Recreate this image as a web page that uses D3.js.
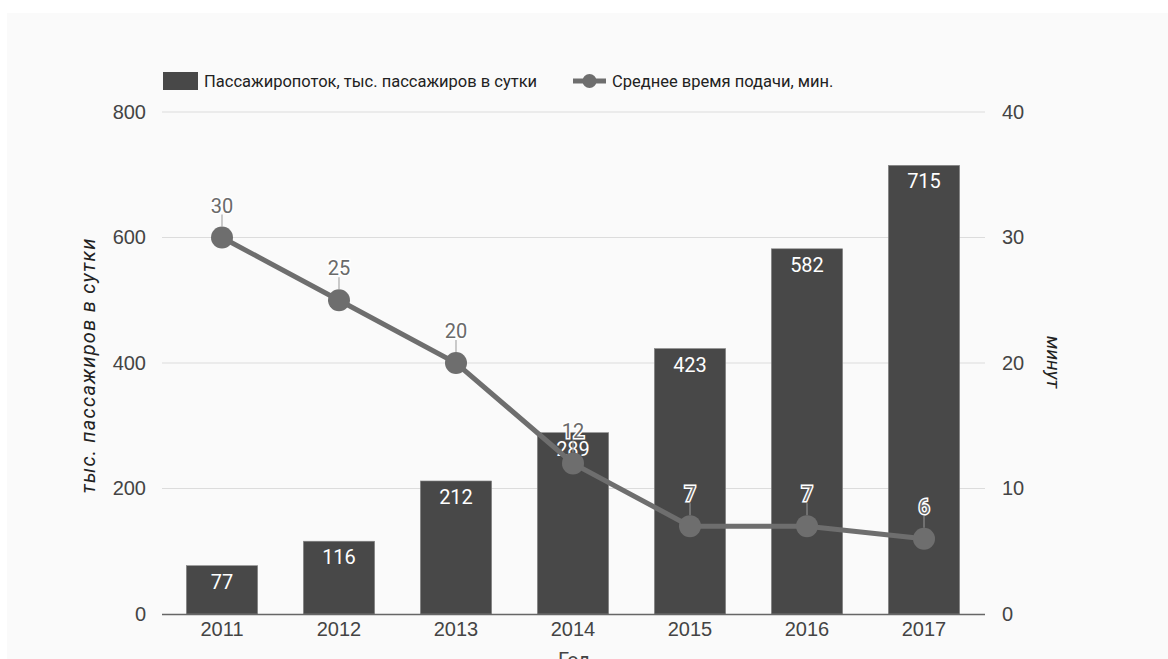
<!DOCTYPE html>
<html><head><meta charset="utf-8">
<script src="https://cdn.jsdelivr.net/npm/d3@7"></script>
<style>
html,body{margin:0;padding:0;background:#fff;}
svg{display:block;font-family:Roboto,sans-serif;}
</style></head>
<body>
<svg id="c" width="1168" height="659"></svg>
<script>
const years = ["2011","2012","2013","2014","2015","2016","2017"];
const passengers = [77,116,212,289,423,582,715];
const waitTime = [30,25,20,12,7,7,6];
const leftTicks = [0,200,400,600,800];
const rightTicks = [0,10,20,30,40];
const legendLabels = ["Пассажиропоток, тыс. пассажиров в сутки","Среднее время подачи, мин."];
const yTitleLeft = "тыс. пассажиров в сутки";
const yTitleRight = "минут";
const xTitle = "Год";

const svg = d3.select("#c");
svg.append("rect").attr("x",7).attr("y",13).attr("width",1161).attr("height",646).attr("fill","#fafafa");

const m = {l:163.5, r:982.5, t:112, b:614};
const x = d3.scaleBand().domain(years).range([m.l,m.r]).paddingInner(0.39).paddingOuter(0.195);
const yL = d3.scaleLinear().domain([0,800]).range([m.b,m.t]);
const yR = d3.scaleLinear().domain([0,40]).range([m.b,m.t]);
const cx = d => x(d)+x.bandwidth()/2;

// grid
svg.append("g").selectAll("line").data(leftTicks.filter(d=>d>0)).join("line")
  .attr("x1",162).attr("x2",985).attr("y1",d=>yL(d)).attr("y2",d=>yL(d))
  .attr("stroke","#dcdcdc").attr("stroke-width",1);

// left axis labels
const gl = svg.append("g").attr("transform",`translate(146,0)`)
  .call(d3.axisLeft(yL).tickValues(leftTicks).tickSize(0).tickPadding(0));
gl.select(".domain").remove();
gl.selectAll("text").attr("font-size",20).attr("fill","#444").attr("font-family",null);

const gr = svg.append("g").attr("transform",`translate(1002,0)`)
  .call(d3.axisRight(yR).tickValues(rightTicks).tickSize(0).tickPadding(0));
gr.select(".domain").remove();
gr.selectAll("text").attr("font-size",20).attr("fill","#444").attr("font-family",null);

// bars
svg.append("g").selectAll("rect").data(passengers).join("rect")
  .attr("x",(d,i)=>x(years[i])).attr("width",x.bandwidth())
  .attr("y",d=>yL(d)).attr("height",d=>yL(0)-yL(d))
  .attr("fill","#484848").attr("stroke","#8a8a8a").attr("stroke-width",0.6);

// baseline
svg.append("line").attr("x1",162).attr("x2",985).attr("y1",m.b+0.5).attr("y2",m.b+0.5)
  .attr("stroke","#666").attr("stroke-width",1.5);

// bottom axis
const gb = svg.append("g").attr("transform",`translate(0,${m.b+4})`)
  .call(d3.axisBottom(x).tickSize(0).tickPadding(4));
gb.select(".domain").remove();
gb.selectAll("text").attr("font-size",20).attr("fill","#444").attr("font-family",null);

// bar labels
svg.append("g").selectAll("text").data(passengers).join("text")
  .attr("x",(d,i)=>cx(years[i])).attr("y",d=>yL(d)+23)
  .attr("text-anchor","middle").attr("font-size",20).attr("fill","#fff").text(d=>d);

// line
const line = d3.line().x((d,i)=>cx(years[i])).y(d=>yR(d));
svg.append("path").datum(waitTime).attr("d",line).attr("fill","none")
  .attr("stroke","#6e6e6e").attr("stroke-width",5);
svg.append("g").selectAll("circle").data(waitTime).join("circle")
  .attr("cx",(d,i)=>cx(years[i])).attr("cy",d=>yR(d)).attr("r",11).attr("fill","#6e6e6e");

// line label leaders
svg.append("g").selectAll("line").data(waitTime).join("line")
  .attr("x1",(d,i)=>cx(years[i])).attr("x2",(d,i)=>cx(years[i]))
  .attr("y1",d=>yR(d)-23).attr("y2",d=>yR(d)-11)
  .attr("stroke","#999").attr("stroke-width",1);
// line labels with halo
svg.append("g").selectAll("text").data(waitTime).join("text")
  .attr("x",(d,i)=>cx(years[i])).attr("y",d=>yR(d)-25)
  .attr("text-anchor","middle").attr("font-size",20)
  .attr("fill","#6a6a6a").attr("stroke","#fff").attr("stroke-width",3)
  .attr("paint-order","stroke").text(d=>d);

// axis titles
svg.append("text").attr("transform",`translate(95,366) rotate(-90)`)
  .attr("text-anchor","middle").attr("font-size",20).attr("font-style","italic")
  .attr("textLength",255).attr("lengthAdjust","spacing")
  .attr("fill","#222").text(yTitleLeft);
svg.append("text").attr("transform",`translate(1047,362) rotate(90)`)
  .attr("text-anchor","middle").attr("font-size",19).attr("font-style","italic")
  .attr("fill","#222").text(yTitleRight);
svg.append("text").attr("x",574).attr("y",667).attr("text-anchor","middle")
  .attr("font-size",20).attr("fill","#444").text(xTitle);

// legend
const lg = svg.append("g");
lg.append("rect").attr("x",163).attr("y",72).attr("width",35).attr("height",18).attr("fill","#484848");
lg.append("text").attr("x",204).attr("y",87).attr("font-size",16.5).attr("fill","#222").text(legendLabels[0]);
lg.append("line").attr("x1",573).attr("x2",606).attr("y1",81).attr("y2",81).attr("stroke","#6e6e6e").attr("stroke-width",5);
lg.append("circle").attr("cx",589.5).attr("cy",81).attr("r",7).attr("fill","#6e6e6e");
lg.append("text").attr("x",612).attr("y",87).attr("font-size",16.5).attr("fill","#222").text(legendLabels[1]);
</script>
</body></html>
